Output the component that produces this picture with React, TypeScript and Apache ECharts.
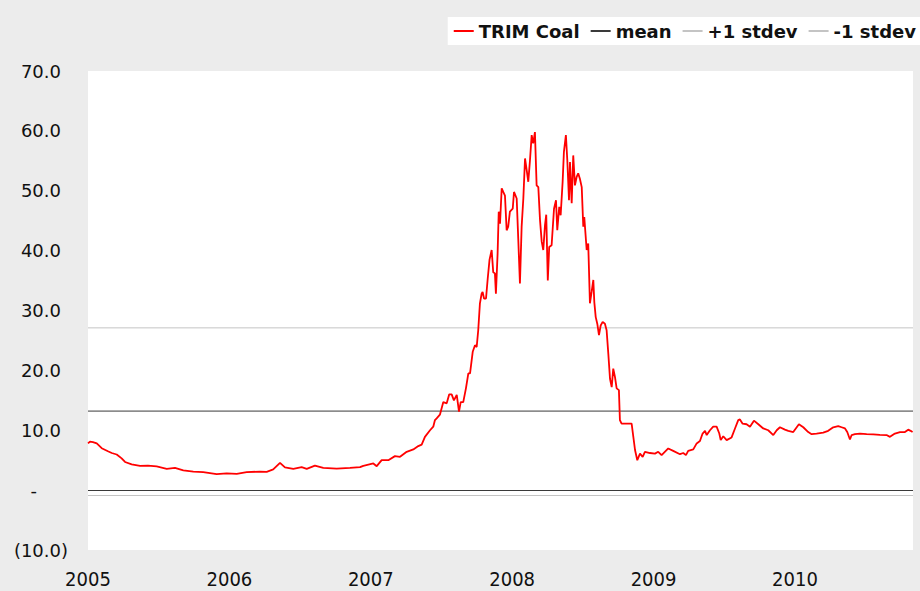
import React, { useEffect, useRef } from "react";
import * as echarts from "echarts";

const seriesNames = ["TRIM Coal", "mean", "+1 stdev", "-1 stdev"];

// [decimal year, value]
const trimCoal: [number, number][] = [
  [2005.000, 7.8], [2005.014, 8.1], [2005.035, 8.0], [2005.062, 7.8], [2005.097, 7.0], [2005.141, 6.5],
  [2005.168, 6.2], [2005.203, 5.95], [2005.238, 5.3], [2005.262, 4.7], [2005.309, 4.3], [2005.368, 4.06],
  [2005.424, 4.1], [2005.486, 3.95], [2005.557, 3.56], [2005.615, 3.7], [2005.674, 3.3], [2005.745, 3.1],
  [2005.815, 3.0], [2005.910, 2.67], [2005.981, 2.8],
  [2006.052, 2.73], [2006.122, 3.0], [2006.216, 3.1], [2006.264, 3.06], [2006.310, 3.45], [2006.358, 4.56],
  [2006.393, 3.8], [2006.452, 3.56], [2006.511, 3.84], [2006.547, 3.56], [2006.605, 4.1], [2006.664, 3.7],
  [2006.759, 3.6], [2006.853, 3.7], [2006.924, 3.84], [2006.947, 4.06],
  [2007.018, 4.45], [2007.042, 4.0], [2007.077, 5.0], [2007.124, 5.0], [2007.171, 5.68], [2007.207, 5.56],
  [2007.254, 6.4], [2007.301, 6.8], [2007.336, 7.35], [2007.360, 7.6], [2007.383, 8.9], [2007.419, 10.0],
  [2007.442, 10.6], [2007.454, 11.7], [2007.466, 12.0], [2007.489, 12.6], [2007.513, 14.7], [2007.537, 14.5],
  [2007.555, 16.0], [2007.572, 16.0], [2007.588, 15.0], [2007.608, 15.9], [2007.624, 13.1], [2007.636, 14.7],
  [2007.654, 14.7], [2007.673, 17.0], [2007.690, 19.5], [2007.702, 19.5], [2007.721, 23.1], [2007.737, 24.2],
  [2007.749, 23.9], [2007.760, 26.7], [2007.772, 31.2], [2007.784, 32.8], [2007.791, 33.1], [2007.801, 32.0],
  [2007.815, 32.0], [2007.827, 35.3], [2007.840, 38.5], [2007.855, 40.1], [2007.866, 36.4], [2007.878, 36.2],
  [2007.885, 32.8], [2007.897, 39.5], [2007.905, 46.5], [2007.914, 44.5], [2007.926, 50.4], [2007.937, 49.8],
  [2007.949, 49.2], [2007.961, 43.4], [2007.972, 44.0], [2007.984, 46.5],
  [2008.004, 47.0], [2008.013, 49.8], [2008.032, 48.7], [2008.043, 42.0], [2008.055, 34.5], [2008.067, 44.0],
  [2008.079, 48.7], [2008.091, 55.4], [2008.103, 53.4], [2008.114, 51.5], [2008.126, 55.1], [2008.138, 59.3],
  [2008.149, 57.9], [2008.161, 59.8], [2008.173, 50.9], [2008.185, 50.6], [2008.197, 45.1], [2008.209, 41.5],
  [2008.220, 40.1], [2008.232, 44.2], [2008.241, 46.0], [2008.252, 35.0], [2008.262, 40.6], [2008.279, 40.9],
  [2008.296, 47.0], [2008.310, 48.4], [2008.319, 43.4], [2008.333, 47.3], [2008.343, 45.9], [2008.357, 51.5],
  [2008.366, 56.5], [2008.380, 59.3], [2008.390, 55.1], [2008.402, 48.4], [2008.409, 54.8], [2008.421, 47.9],
  [2008.432, 55.9], [2008.444, 50.9], [2008.456, 52.3], [2008.467, 52.9], [2008.479, 52.0], [2008.492, 50.6],
  [2008.503, 44.0], [2008.510, 45.6], [2008.527, 40.1], [2008.538, 41.2], [2008.550, 31.2], [2008.562, 33.1],
  [2008.574, 35.1], [2008.581, 31.4], [2008.591, 28.9], [2008.602, 27.8], [2008.614, 25.9], [2008.626, 27.5],
  [2008.640, 28.1], [2008.656, 27.8], [2008.668, 26.7], [2008.680, 22.8], [2008.692, 18.6], [2008.704, 17.2],
  [2008.715, 20.3], [2008.727, 18.9], [2008.739, 17.0], [2008.755, 16.7], [2008.762, 11.7], [2008.774, 11.1],
  [2008.845, 11.1], [2008.857, 8.9], [2008.869, 6.7], [2008.885, 5.0], [2008.904, 6.1], [2008.923, 5.56],
  [2008.939, 6.4], [2008.975, 6.2],
  [2009.010, 6.1], [2009.033, 6.4], [2009.057, 5.84], [2009.104, 6.96], [2009.139, 6.56], [2009.187, 6.0],
  [2009.210, 6.2], [2009.229, 5.84], [2009.245, 6.56], [2009.281, 6.8], [2009.305, 7.8], [2009.328, 8.2],
  [2009.347, 9.45], [2009.364, 9.9], [2009.376, 9.2], [2009.399, 10.0], [2009.422, 10.6], [2009.446, 10.6],
  [2009.465, 9.45], [2009.475, 8.35], [2009.493, 9.0], [2009.517, 8.35], [2009.552, 8.8], [2009.576, 10.3],
  [2009.599, 11.7], [2009.611, 11.8], [2009.630, 11.1], [2009.658, 11.0], [2009.682, 10.6], [2009.710, 11.6],
  [2009.741, 11.0], [2009.776, 10.3], [2009.811, 10.0], [2009.847, 9.2], [2009.871, 10.0], [2009.894, 10.5],
  [2009.929, 10.1], [2009.953, 9.9], [2009.988, 9.7],
  [2010.028, 11.0], [2010.059, 10.5], [2010.094, 9.7], [2010.118, 9.35], [2010.153, 9.45], [2010.200, 9.6],
  [2010.235, 9.9], [2010.271, 10.5], [2010.306, 10.7], [2010.330, 10.5], [2010.354, 10.3], [2010.370, 9.7],
  [2010.389, 8.46], [2010.401, 9.2], [2010.424, 9.35], [2010.460, 9.45], [2010.507, 9.35], [2010.554, 9.3],
  [2010.601, 9.23], [2010.648, 9.2], [2010.672, 8.9], [2010.707, 9.45], [2010.743, 9.7], [2010.778, 9.7],
  [2010.801, 10.1], [2010.818, 9.9], [2010.832, 9.7],
];

const meanValue = 13.2;
const plusOneStdev = 27.1;
const minusOneStdev = -0.9;

const xStart = 2005;
const xEnd = 2010.835;
const yMin = -10;
const yMax = 70;
const yInterval = 10;

const flatLine = (v: number): [number, number][] => [
  [xStart, v],
  [xEnd, v],
];

export default function App() {
  const ref = useRef<HTMLDivElement>(null);

  useEffect(() => {
    if (!ref.current) return;
    const chart = echarts.init(ref.current, null, { renderer: "svg" });
    const labelFont = "'DejaVu Sans', Verdana, sans-serif";
    chart.setOption({
      animation: false,
      backgroundColor: "#ececec",
      grid: {
        left: 88,
        top: 71,
        right: 7,
        bottom: 41,
        show: true,
        backgroundColor: "#ffffff",
        borderWidth: 0,
        containLabel: false,
      },
      legend: {
        data: seriesNames.map((name) => ({ name, icon: "rect" })),
        right: -2,
        top: 17,
        backgroundColor: "#ffffff",
        padding: [5, 6, 5, 6],
        itemGap: 11,
        itemWidth: 20,
        itemHeight: 2,
        textStyle: {
          fontFamily: labelFont,
          fontWeight: "bold",
          fontSize: 18,
          color: "#111111",
        },
      },
      xAxis: {
        type: "value",
        min: xStart,
        max: xEnd,
        interval: 1,
        axisLine: { show: false },
        axisTick: { show: false },
        splitLine: { show: false },
        axisLabel: {
          margin: 19,
          showMaxLabel: false,
          fontFamily: "'Liberation Sans Narrow', 'DejaVu Sans Condensed', sans-serif",
          fontSize: 20,
          color: "#111111",
          formatter: (v: number) => (Number.isInteger(v) ? String(v) : ""),
        },
      },
      yAxis: {
        type: "value",
        min: yMin,
        max: yMax,
        interval: yInterval,
        axisLine: { show: false },
        axisTick: { show: false },
        splitLine: { show: false },
        axisLabel: {
          margin: 20,
          fontFamily: labelFont,
          fontSize: 18,
          color: "#111111",
          formatter: (v: number) => {
            if (v > 0) return `{p|${v.toFixed(1)}}`;
            if (v === 0) return "{z|-}";
            return `{n|(${Math.abs(v).toFixed(1)})}`;
          },
          rich: {
            p: { fontFamily: labelFont, fontSize: 18, color: "#111111", padding: [0, 7, 0, 0] },
            z: { fontFamily: labelFont, fontSize: 18, color: "#111111", padding: [0, 31, 0, 0] },
            n: { fontFamily: labelFont, fontSize: 18, color: "#111111" },
          },
        },
      },
      series: [
        {
          name: seriesNames[0],
          type: "line",
          data: trimCoal,
          symbol: "none",
          z: 4,
          lineStyle: { color: "#ff0000", width: 1.8 },
          itemStyle: { color: "#ff0000" },
          markLine: {
            silent: true,
            symbol: "none",
            label: { show: false },
            lineStyle: { color: "#3a3a3a", width: 1, type: "solid" },
            data: [{ yAxis: 0 }],
          },
        },
        {
          name: seriesNames[1],
          type: "line",
          data: flatLine(meanValue),
          symbol: "none",
          z: 3,
          lineStyle: { color: "#3a3a3a", width: 1 },
          itemStyle: { color: "#3a3a3a" },
        },
        {
          name: seriesNames[2],
          type: "line",
          data: flatLine(plusOneStdev),
          symbol: "none",
          z: 2,
          lineStyle: { color: "#c4c4c4", width: 1 },
          itemStyle: { color: "#c4c4c4" },
        },
        {
          name: seriesNames[3],
          type: "line",
          data: flatLine(minusOneStdev),
          symbol: "none",
          z: 2,
          lineStyle: { color: "#c4c4c4", width: 1 },
          itemStyle: { color: "#c4c4c4" },
        },
      ],
    });
    return () => chart.dispose();
  }, []);

  return (
    <div
      ref={ref}
      style={{ position: "fixed", left: 0, top: 0, width: 920, height: 591, background: "#ececec" }}
    />
  );
}
